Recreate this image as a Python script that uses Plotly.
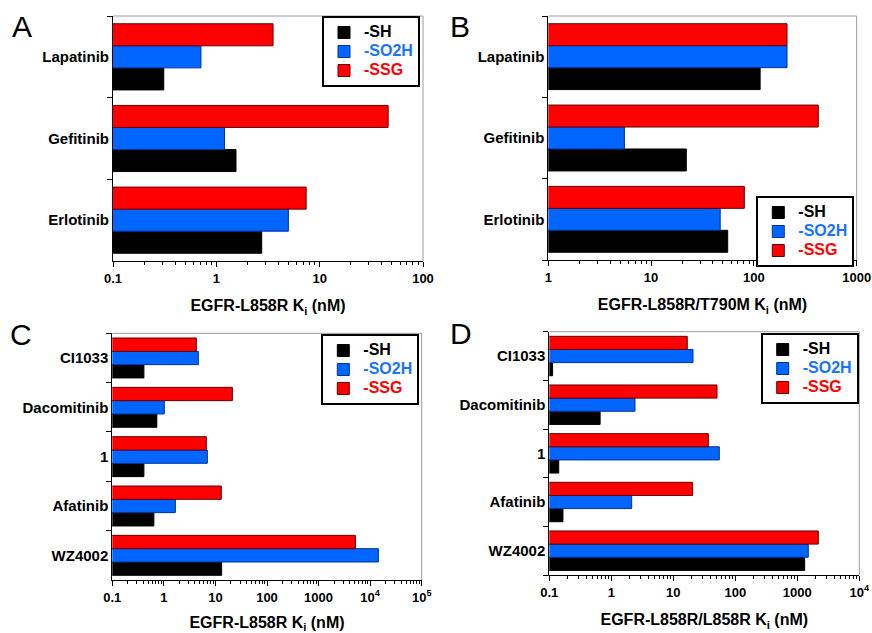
import math
import plotly.graph_objects as go

W, H = 872, 633
FONT = "Liberation Sans, Arial, sans-serif"

# ---------------- data ----------------
series_names = ["-SH", "-SO2H", "-SSG"]
series_colors = ["#000000", "#0066FF", "#FF0000"]
series_edges = ["#000000", "#003399", "#660000"]
legend_text_colors = ["#000000", "#1a73ff", "#ff0000"]

drugs_ab = ["Lapatinib", "Gefitinib", "Erlotinib"]
a_sh = [0.31, 1.55, 2.75]
a_so2h = [0.71, 1.2, 4.98]
a_ssg = [3.54, 46, 7.4]

b_sh = [115, 22, 55.6]
b_so2h = [210, 5.5, 47]
b_ssg = [210, 423, 80.7]

drugs_cd = ["CI1033", "Dacomitinib", "1", "Afatinib", "WZ4002"]
c_sh = [0.41, 0.73, 0.41, 0.64, 13.2]
c_so2h = [4.66, 1.02, 6.97, 1.67, 14450]
c_ssg = [4.26, 21.3, 6.66, 13, 5175]

d_sh = [0.113, 0.66, 0.142, 0.166, 1315]
d_so2h = [20.8, 2.41, 55.2, 2.13, 1504]
d_ssg = [16.8, 50.7, 36.7, 20.5, 2183]

a_ticks = [0.1, 1, 10, 100]
a_ticktext = ["0.1", "1", "10", "100"]
b_ticks = [1, 10, 100, 1000]
b_ticktext = ["1", "10", "100", "1000"]
c_ticks = [0.1, 1, 10, 100, 1000, 1e4, 1e5]
c_ticktext = ["0.1", "1", "10", "100", "1000", "10<sup>4</sup>", "10<sup>5</sup>"]
d_ticks = [0.1, 1, 10, 100, 1000, 1e4]
d_ticktext = ["0.1", "1", "10", "100", "1000", "10<sup>4</sup>"]

titles = [
    "EGFR-L858R K<sub>i</sub> (nM)",
    "EGFR-L858R/T790M K<sub>i</sub> (nM)",
    "EGFR-L858R K<sub>i</sub> (nM)",
    "EGFR-L858R/L858R K<sub>i</sub> (nM)",
]
letters = ["A", "B", "C", "D"]

# ---------------- layout geometry (pixels) ----------------
boxes = [
    (113, 16, 423, 261),
    (548.3, 16, 856.7, 260),
    (112.3, 333.3, 421.7, 580),
    (549.3, 331.7, 859.3, 575),
]
legend_boxes = [  # right, top
    (420, 16),
    (854.3, 196),
    (419.3, 334),
    (858.7, 333),
]
letter_pos = [(22, 26), (460, 27), (21, 334), (461, 333.5)]

panels = [
    (drugs_ab, [a_sh, a_so2h, a_ssg], a_ticks, a_ticktext),
    (drugs_ab, [b_sh, b_so2h, b_ssg], b_ticks, b_ticktext),
    (drugs_cd, [c_sh, c_so2h, c_ssg], c_ticks, c_ticktext),
    (drugs_cd, [d_sh, d_so2h, d_ssg], d_ticks, d_ticktext),
]

fig = go.Figure()
layout = dict(
    width=W, height=H,
    margin=dict(l=0, r=0, t=0, b=0),
    paper_bgcolor="white", plot_bgcolor="white",
    barmode="group", bargap=0.19, bargroupgap=0,
    font=dict(family=FONT, color="black"),
    showlegend=True,
)
shapes = []
annotations = []

for i, (cats, vals, tv, tt) in enumerate(panels):
    n = "" if i == 0 else str(i + 1)
    xa, ya = "x" + n, "y" + n
    leg = "legend" + n
    for s in range(3):
        fig.add_trace(go.Bar(
            y=cats, x=vals[s], orientation="h",
            name='<span style="color:%s;font-size:16px">%s</span>' % (legend_text_colors[s], series_names[s]),
            marker=dict(color=series_colors[s], line=dict(color=series_edges[s], width=1)),
            xaxis=xa, yaxis=ya, legend=leg,
        ))
    x0, y0, x1, y1 = boxes[i]
    dom_x = [x0 / W, x1 / W]
    dom_y = [1 - y1 / H, 1 - y0 / H]
    lo, hi = tv[0], tv[-1]
    dec_lo, dec_hi = int(round(math.log10(lo))), int(round(math.log10(hi)))
    minor_vals = [m * 10 ** d for d in range(dec_lo, dec_hi) for m in range(2, 10)]
    layout["xaxis" + n] = dict(
        domain=dom_x, anchor=ya, type="log",
        range=[math.log10(lo), math.log10(hi)],
        tickmode="array", tickvals=tv, ticktext=tt,
        ticks="outside", ticklen=5, tickcolor="black", tickwidth=1,
        minor=dict(tickmode="array", tickvals=minor_vals, ticks="outside",
                   ticklen=3, tickcolor="black", showgrid=False),
        showline=True, linecolor="black", linewidth=1,
        showgrid=False, zeroline=False,
        tickfont=dict(size=13, weight="bold", family=FONT),
        title=dict(text=titles[i], font=dict(size=16, weight="bold", family=FONT), standoff=15),
        automargin=False, fixedrange=True,
    )
    layout["yaxis" + n] = dict(
        domain=dom_y, anchor=xa, type="category",
        categoryorder="array", categoryarray=list(reversed(cats)),
        tickson="boundaries", ticks="outside", ticklen=5, tickcolor="black",
        showline=True, linecolor="black", linewidth=1,
        showgrid=False, zeroline=False,
        tickfont=dict(size=15, weight="bold", family=FONT),
        automargin=False, fixedrange=True,
    )
    lx, ly = legend_boxes[i]
    layout[leg] = dict(
        x=lx / W, y=1 - ly / H, xanchor="right", yanchor="top",
        bgcolor="white", bordercolor="black", borderwidth=2,
        font=dict(size=11, weight="bold", family=FONT, color="black"),
        traceorder="normal", itemclick=False, itemdoubleclick=False,
    )
    # gray top/right frame
    shapes.append(dict(type="line", xref=xa + " domain", yref=ya + " domain",
                       x0=0, x1=1, y0=1, y1=1, line=dict(color="#9a9a9a", width=1)))
    shapes.append(dict(type="line", xref=xa + " domain", yref=ya + " domain",
                       x0=1, x1=1, y0=0, y1=1, line=dict(color="#9a9a9a", width=1)))
    px, py = letter_pos[i]
    annotations.append(dict(text=letters[i], x=px / W, y=1 - py / H, xref="paper", yref="paper",
                            xanchor="center", yanchor="middle", showarrow=False,
                            font=dict(size=30, family=FONT, color="black")))

layout["shapes"] = shapes
layout["annotations"] = annotations
fig.update_layout(**layout)
fig.write_html(
    "out.html",
    config={"displayModeBar": False},
    post_script="document.body.style.margin='0px';document.body.style.overflow='hidden';",
)
